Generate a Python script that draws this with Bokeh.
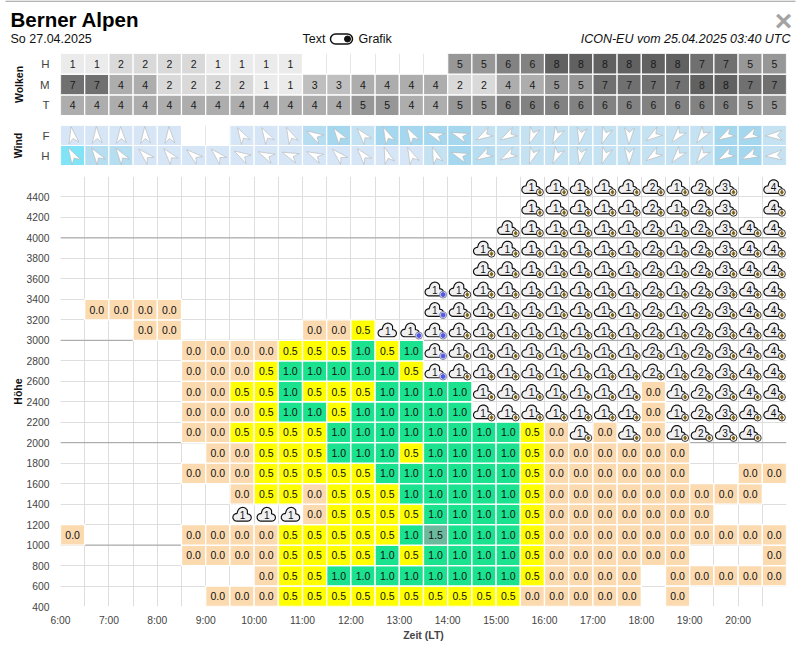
import numpy as np
from bokeh.core.properties import value
from bokeh.embed import file_html
from bokeh.layouts import column
from bokeh.models import ColumnDataSource, FixedTicker, Range1d, Span
from bokeh.plotting import figure
from bokeh.resources import INLINE

FONT = "Liberation Sans"
_ = None

hours = [6 + i * 0.5 for i in range(30)]
hour_ticks = list(range(6, 21))
hour_labels = {h: f"{h}:00" for h in hour_ticks}
height_ticks = list(range(400, 4401, 200))
row_bottoms = list(range(400, 4401, 200))

cloud_high = [1,1,2,2,2,2,1,1,1,1,0,0,0,0,0,0,5,5,6,6,8,8,8,8,8,8,7,7,5,5]
cloud_mid = [7,7,4,4,2,2,2,2,1,1,3,3,4,4,4,4,2,2,4,4,5,5,7,7,7,7,8,8,7,7]
cloud_low = [4,4,4,4,4,4,4,4,4,4,4,4,5,5,4,4,5,5,6,6,6,6,6,6,6,6,6,6,5,5]

wind_f_speed = [1,1,1,1,1,0,0,1,1,1,3,4,2,4,4,4,4,2,2,2,2,2,2,2,2,2,2,4,4,2]
wind_h_speed = [5,3,3,1,1,1,1,1,1,1,1,1,1,1,1,2,4,3,2,2,2,2,2,2,2,2,2,4,4,2]
wind_f_dir = [10,3,3,3,3,_,_,30,30,25,60,35,40,25,30,70,70,120,120,160,155,170,160,178,125,140,145,120,115,92]
wind_h_dir = [30,35,35,45,40,50,45,60,65,68,65,45,40,20,25,20,70,120,120,160,155,170,160,178,125,140,145,120,115,95]

A, B = "A1", "B1"   # A: cloud with lightning badge, B: cloud with blue badge
P = "P1"            # plain cloud
A2, A3, A4 = "A2", "A3", "A4"

r400 = [_,_,_,_,_,_,0,0,0,.5,.5,.5,.5,.5,.5,.5,.5,.5,.5,0,0,0,0,0,_,0,_,_,_,_]
r600 = [_,_,_,_,_,_,_,_,0,.5,.5,1,1,1,1,1,1,1,1,.5,0,0,0,0,_,0,0,0,0,0]
r800 = [_,_,_,_,_,0,0,0,0,.5,.5,.5,.5,1,.5,1,1,1,1,.5,0,0,0,0,0,0,_,_,_,0]
r1000 = [0,_,_,_,_,0,0,0,0,.5,.5,.5,.5,.5,1,1.5,1,1,1,.5,0,0,0,0,0,0,0,0,0,0]
r1200 = [_,_,_,_,_,_,_,P,P,P,0,.5,.5,.5,.5,1,1,1,1,.5,0,0,0,0,0,0,0,_,_,_]
r1400 = [_,_,_,_,_,_,_,0,.5,.5,0,.5,.5,.5,1,1,1,1,1,.5,0,0,0,0,0,0,0,0,0,_]
r1600 = [_,_,_,_,_,0,0,0,.5,.5,.5,.5,.5,1,1,1,1,1,1,.5,0,0,0,0,0,0,_,_,0,0]
r1800 = [_,_,_,_,_,_,0,0,.5,.5,.5,1,1,1,.5,1,1,1,1,.5,0,0,0,0,0,0,_,_,_,_]
r2000 = [_,_,_,_,_,0,0,.5,.5,.5,.5,1,1,1,1,1,1,1,1,.5,0,A,0,A,0,A,A2,A3,A4,_]
r2200 = [_,_,_,_,_,0,0,0,.5,1,1,.5,1,1,1,1,1,A,A,A,A,A,A,A,0,A,A2,A3,A4,A4]
r2400 = [_,_,_,_,_,0,0,.5,.5,1,.5,.5,.5,1,1,1,1,A,A,A,A,A,A,A,0,A,A2,A3,A4,A4]
r2600 = [_,_,_,_,_,0,0,0,.5,1,1,1,1,1,.5,B,A,A,A,A,A,A,A,A,A2,A,A2,A3,A4,A4]
r2800 = [_,_,_,_,_,0,0,0,0,.5,.5,.5,1,.5,1,B,A,A,A,A,A,A,A,A,A2,A,A2,A3,A4,A4]
r3000 = [_,_,_,0,0,_,_,_,_,_,0,0,.5,P,B,B,A,A,A,A,A,A,A,A,A2,A,A2,A3,A4,A4]
r3200 = [_,0,0,0,0,_,_,_,_,_,_,_,_,_,_,B,A,A,A,A,A,A,A,A,A2,A,A2,A3,A4,A4]
r3400 = [_,_,_,_,_,_,_,_,_,_,_,_,_,_,_,B,A,A,A,A,A,A,A,A,A2,A,A2,A3,A4,A4]
r3600 = [_,_,_,_,_,_,_,_,_,_,_,_,_,_,_,_,_,A,A,A,A,A,A,A,A2,A,A2,A3,A4,A4]
r3800 = [_,_,_,_,_,_,_,_,_,_,_,_,_,_,_,_,_,A,A,A,A,A,A,A,A2,A,A2,A3,A4,A4]
r4000 = [_,_,_,_,_,_,_,_,_,_,_,_,_,_,_,_,_,_,A,A,A,A,A,A,A2,A,A2,A3,A4,A4]
r4200 = [_,_,_,_,_,_,_,_,_,_,_,_,_,_,_,_,_,_,_,A,A,A,A,A,A2,A,A2,A3,_,A4]
r4400 = [_,_,_,_,_,_,_,_,_,_,_,_,_,_,_,_,_,_,_,A,A,A,A,A,A2,A,A2,A3,_,A4]
rows = [r400, r600, r800, r1000, r1200, r1400, r1600, r1800, r2000, r2200, r2400,
        r2600, r2800, r3000, r3200, r3400, r3600, r3800, r4000, r4200, r4400]

CELL_COLORS = {0: "#fcdab0", .5: "#ffff00", 1: "#1be28f", 1.5: "#6cb99e"}
GRAYS = {1: "#ebebeb", 2: "#d9d9d9", 3: "#bfbfbf", 4: "#adadad", 5: "#979797",
         6: "#828282", 7: "#707070", 8: "#616161"}
BLUES = {1: "#d6e6f6", 2: "#c5e2f2", 3: "#b6ddf0", 4: "#a5d8ee", 5: "#80e4f6"}

BORDER_L, BORDER_R = 60, 14
FW = 726
PX_H = FW / 15
X_RANGE = (6, 21)


def base(frame_h, top, bottom, y_range):
    p = figure(frame_width=FW, frame_height=frame_h, x_range=Range1d(*X_RANGE), y_range=y_range,
               output_backend="svg", toolbar_location=None,
               min_border_left=BORDER_L, min_border_right=BORDER_R,
               min_border_top=top, min_border_bottom=bottom)
    p.outline_line_color = None
    p.yaxis.axis_line_color = None
    p.yaxis.major_tick_line_color = None
    p.yaxis.minor_tick_line_color = None
    p.yaxis.major_tick_out = 0
    p.yaxis.major_tick_in = 0
    p.yaxis.major_label_text_font = FONT
    p.yaxis.axis_label_text_font = FONT
    p.yaxis.axis_label_text_font_style = "bold"
    p.yaxis.axis_label_text_color = "#111111"
    p.yaxis.axis_label_text_font_size = "10.5px"
    return p


# ---------- header ----------
head = figure(frame_width=800, frame_height=53, x_range=Range1d(0, 800), y_range=Range1d(53, 0),
              output_backend="svg", toolbar_location=None,
              min_border_left=0, min_border_right=0, min_border_top=0, min_border_bottom=0)
head.axis.visible = False
head.grid.visible = False
head.outline_line_color = None


def t(x, y, s, size, align="left", style="normal", color="#111111"):
    head.text([x], [y], text=[s], text_font=value(FONT), text_font_size=size, text_align=align,
              text_baseline="middle", text_font_style=style, text_color=color)


t(10, 18.5, "Berner Alpen", "20.5px", style="bold", color="#000000")
t(10, 38.5, "So 27.04.2025", "12.5px")
t(302, 38.5, "Text", "12.5px")
t(358, 38.5, "Grafik", "12.5px")
t(790, 38.5, "ICON-EU vom 25.04.2025 03:40 UTC", "12.5px", align="right", style="italic")
t(783, 20, "×", "30px", align="center", style="bold", color="#a3a3a3")
head.quad(left=[330], right=[352], top=[33.5], bottom=[43.5], fill_color="white",
          line_color="#111111", line_width=1.5, border_radius=5)
head.scatter([347], [38.5], marker="circle", size=6, color="#111111")
head.line([5, 795], [.6, .6], line_color="#9a9a9a", line_width=1.2)


# ---------- cloud and wind panels ----------
def panel_cells(p, values, row, palette):
    sel = [i for i, v in enumerate(values) if v]
    src = ColumnDataSource(dict(
        l=[hours[i] for i in sel], r=[hours[i] + .5 for i in sel],
        b=[row] * len(sel), t=[row + 1] * len(sel),
        c=[palette[values[i]] for i in sel]))
    p.quad(left="l", right="r", bottom="b", top="t", fill_color="c", line_color="white",
           line_width=1.2, source=src)


clouds = base(62, 0, 0, Range1d(0, 3))
clouds.xaxis.visible = False
clouds.ygrid.visible = False
clouds.xgrid.ticker = FixedTicker(ticks=hours + [21])
clouds.xgrid.grid_line_color = "#e6e6e6"
clouds.yaxis.ticker = FixedTicker(ticks=[.5, 1.5, 2.5])
clouds.yaxis.major_label_overrides = {.5: "T", 1.5: "M", 2.5: "H"}
clouds.yaxis.major_label_text_font_size = "11.5px"
clouds.yaxis.major_label_standoff = 11
clouds.yaxis.axis_label = "Wolken"
clouds.yaxis.axis_label_standoff = 12
for rw, vals in enumerate([cloud_low, cloud_mid, cloud_high]):
    panel_cells(clouds, vals, rw, GRAYS)
    sel = [i for i, v in enumerate(vals) if v]
    clouds.text([hours[i] + .25 for i in sel], [rw + .5] * len(sel),
                text=[str(vals[i]) for i in sel], text_font=value(FONT), text_font_size="10.5px",
                text_align="center", text_baseline="middle", text_color="#1a1a1a")

wind = base(40, 10, 0, Range1d(0, 2))
wind.xaxis.visible = False
wind.ygrid.visible = False
wind.xgrid.ticker = FixedTicker(ticks=hours + [21])
wind.xgrid.grid_line_color = "#e6e6e6"
wind.yaxis.ticker = FixedTicker(ticks=[.5, 1.5])
wind.yaxis.major_label_overrides = {.5: "H", 1.5: "F"}
wind.yaxis.major_label_text_font_size = "11.5px"
wind.yaxis.major_label_standoff = 11
wind.yaxis.axis_label = "Wind"
wind.yaxis.axis_label_standoff = 14

ARROW = np.array([[0, -9.0], [5.0, 7.6], [0, 3.0], [-5.0, 7.6]])
PX_ROW = 20
for rw, (spd, dirs) in enumerate([(wind_h_speed, wind_h_dir), (wind_f_speed, wind_f_dir)]):
    panel_cells(wind, spd, rw, BLUES)
    xs, ys = [], []
    for i, a in enumerate(dirs):
        if a is None:
            continue
        th = np.radians(a)
        ox = ARROW[:, 0] * np.cos(th) + ARROW[:, 1] * np.sin(th)
        oy = -ARROW[:, 0] * np.sin(th) + ARROW[:, 1] * np.cos(th)
        xs.append(hours[i] + .25 + ox / PX_H)
        ys.append(rw + .5 - oy / PX_ROW)
    wind.patches(xs, ys, fill_color="white", line_color="#b4b4b4", line_width=.6)

# ---------- main chart ----------
main = base(430, 11, 40, Range1d(400, 4600))
PX_M = 430 / 4200
main.xgrid.ticker = FixedTicker(ticks=hours + [21])
main.ygrid.ticker = FixedTicker(ticks=row_bottoms + [4600])
main.xgrid.grid_line_color = "#dedede"
main.ygrid.grid_line_color = "#dedede"
main.xaxis.ticker = FixedTicker(ticks=hour_ticks)
main.xaxis.major_label_overrides = hour_labels
main.xaxis.axis_line_color = None
main.xaxis.major_tick_line_color = None
main.xaxis.minor_tick_line_color = None
main.xaxis.major_tick_out = 0
main.xaxis.major_tick_in = 0
main.xaxis.major_label_text_font = FONT
main.xaxis.major_label_text_font_size = "10.3px"
main.xaxis.major_label_standoff = 8
main.xaxis.axis_label = "Zeit (LT)"
main.xaxis.axis_label_text_font = FONT
main.xaxis.axis_label_text_font_style = "bold"
main.xaxis.axis_label_text_font_size = "10.5px"
main.xaxis.axis_label_standoff = 0
main.yaxis.ticker = FixedTicker(ticks=height_ticks)
main.yaxis.major_label_text_font_size = "10.3px"
main.yaxis.major_label_standoff = 11
main.yaxis.axis_label = "Höhe"
main.yaxis.axis_label_standoff = 0
for h in (1000, 2000, 3000, 4000):
    main.add_layout(Span(location=h, dimension="width", line_color="#a0a0a0", line_width=1,
                         level="underlay"))

cell_l, cell_b, cell_c, cell_t = [], [], [], []
cloud_items = []
for bottom, row in zip(row_bottoms, rows):
    for i, v in enumerate(row):
        if v is None:
            continue
        if isinstance(v, str):
            cloud_items.append((hours[i] + .25, bottom + 100, v[0], v[1]))
        else:
            cell_l.append(hours[i])
            cell_b.append(bottom)
            cell_c.append(CELL_COLORS[v])
            cell_t.append(f"{v:.1f}")

src = ColumnDataSource(dict(l=cell_l, r=[v + .5 for v in cell_l], b=cell_b,
                            t=[v + 200 for v in cell_b], c=cell_c, s=cell_t,
                            x=[v + .25 for v in cell_l], y=[v + 100 for v in cell_b]))
main.quad(left="l", right="r", bottom="b", top="t", fill_color="c", line_color="white",
          line_width=1.3, source=src)
main.text(x="x", y="y", text="s", source=src, text_font=value(FONT), text_font_size="10.5px",
          text_align="center", text_baseline="middle", text_color="#111111")


def arc(cx, cy, r, a0, a1, n=14):
    t_ = np.radians(np.linspace(a0, a1, n))
    return np.c_[cx + r * np.cos(t_), cy + r * np.sin(t_)]


CLOUD = 1.1 * np.vstack([arc(5.2, 2.9, 3.2, 90, -95), arc(.6, -1.6, 4.7, -25, -165),
                         arc(-4.9, 2.7, 3.4, -85, -270)])
cx_, cy_ = [], []
dx_, dy_, ds_ = [], [], []
ba_x, ba_y, bb_x, bb_y = [], [], [], []
for x, y, kind, digit in cloud_items:
    shift = 0 if kind == "P" else -1.4
    cx_.append(x + (CLOUD[:, 0] + shift) / PX_H)
    cy_.append(y - (CLOUD[:, 1]) / PX_M)
    dx_.append(x + (shift + .5) / PX_H)
    dy_.append(y - .6 / PX_M)
    ds_.append(digit)
    if kind != "P":
        (ba_x if kind == "A" else bb_x).append(x + 7.5 / PX_H)
        (ba_y if kind == "A" else bb_y).append(y - 5.5 / PX_M)
main.patches(cx_, cy_, fill_color="#f0f0f2", line_color="#111111", line_width=1.15)
main.text(dx_, dy_, text=ds_, text_font=value(FONT), text_font_size="10px", text_align="center",
          text_baseline="middle", text_color="#111111")
main.scatter(ba_x, ba_y, marker="circle", size=7, fill_color="#f6f2e6", line_color="#222222",
             line_width=.9)
main.scatter(ba_x, ba_y, marker="diamond", size=4, color="#7e5f14")
main.scatter(bb_x, bb_y, marker="circle", size=7, fill_color="#eef0fb", line_color="#77779a",
             line_width=.9)
main.scatter(bb_x, bb_y, marker="circle", size=4, color="#5258e6")

page = column(head, column(clouds, wind, main, spacing=0), spacing=0)
open("out.html", "w").write(file_html(page, INLINE))
